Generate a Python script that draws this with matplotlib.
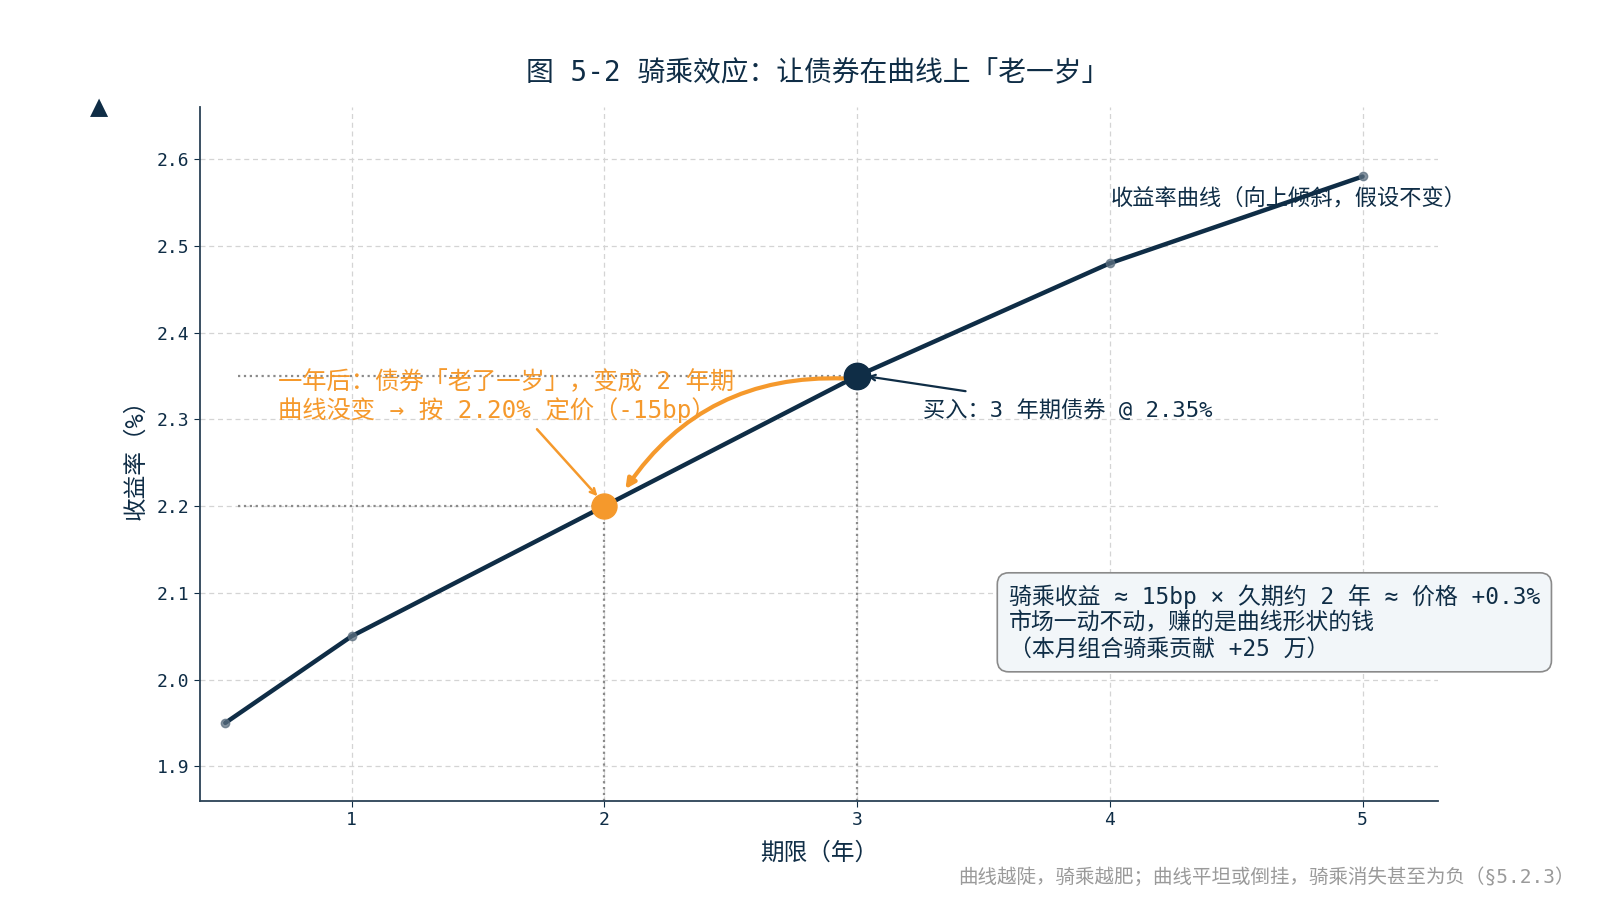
import numpy as np
import matplotlib
matplotlib.use("Agg")
import matplotlib.pyplot as plt

# mono latin + CJK fallback, close to the half-width look of the original
fonts = ["DejaVu Sans Mono", "Noto Sans CJK SC", "DejaVu Sans"]
plt.rcParams["font.family"] = fonts
plt.rcParams["axes.unicode_minus"] = False

# yield curve data
tenors = [0.5, 1, 2, 3, 4, 5]
yields = [1.95, 2.05, 2.20, 2.35, 2.48, 2.58]
buy_tenor, buy_yield = 3, 2.35
roll_tenor, roll_yield = 2, 2.20
x_ticks = [1, 2, 3, 4, 5]
y_ticks = [1.9, 2.0, 2.1, 2.2, 2.3, 2.4, 2.5, 2.6]

navy = "#0f2d46"
orange = "#f5992c"
grey = "#8a8a8a"

fig = plt.figure(figsize=(16, 9), dpi=100)
ax = fig.add_axes([0.125, 0.11, 0.774, 0.771])

ax.grid(True, color="#d4d4d4", linestyle=(0, (4, 3)), linewidth=0.9)
ax.set_axisbelow(True)

# guide lines down to the axes
ax.plot([0.55, buy_tenor], [buy_yield, buy_yield], color=grey, linestyle=":", lw=1.6, zorder=2)
ax.plot([0.55, roll_tenor], [roll_yield, roll_yield], color=grey, linestyle=":", lw=1.6, zorder=2)
ax.plot([buy_tenor, buy_tenor], [1.86, buy_yield], color=grey, linestyle=":", lw=1.6, zorder=2)
ax.plot([roll_tenor, roll_tenor], [1.86, roll_yield], color=grey, linestyle=":", lw=1.6, zorder=2)

# the curve
ax.plot(tenors, yields, color=navy, lw=3.2, zorder=3, solid_capstyle="round")
ax.plot(tenors, yields, "o", color="#5c6f80", ms=6, alpha=0.75, zorder=4)

ax.plot(buy_tenor, buy_yield, "o", color=navy, ms=19, zorder=6)
ax.plot(roll_tenor, roll_yield, "o", color=orange, ms=18, zorder=6)

# annotations
ax.annotate("", xy=(buy_tenor + 0.03, buy_yield), xytext=(3.44, 2.332),
            arrowprops=dict(arrowstyle="->", color=navy, lw=1.6))
ax.text(3.26, 2.311, "买入：3 年期债券 @ 2.35%", color=navy, fontsize=16,
        ha="left", va="center")

ax.text(0.71, 2.326, "一年后：债券「老了一岁」，变成 2 年期\n曲线没变 → 按 2.20% 定价（-15bp）",
        color=orange, fontsize=17.5, ha="left", va="center", linespacing=1.12,
        zorder=7)
ax.annotate("", xy=(1.98, 2.209), xytext=(1.726, 2.291),
            arrowprops=dict(arrowstyle="->", color=orange, lw=1.8))
ax.annotate("", xy=(2.077, 2.217), xytext=(buy_tenor - 0.04, buy_yield - 0.003),
            arrowprops=dict(arrowstyle="-|>", color=orange, lw=3,
                            connectionstyle="arc3,rad=0.28", mutation_scale=14),
            zorder=5)

ax.text(4.004, 2.555, "收益率曲线（向上倾斜，假设不变）", color=navy, fontsize=16,
        ha="left", va="center")

ax.text(3.60, 2.066, "骑乘收益 ≈ 15bp × 久期约 2 年 ≈ 价格 +0.3%\n市场一动不动，赚的是曲线形状的钱\n（本月组合骑乘贡献 +25 万）",
        color=navy, fontsize=16.5, ha="left", va="center", linespacing=1.15,
        bbox=dict(boxstyle="round,pad=0.5", facecolor="#f2f6f9", edgecolor="#8a8a8a", lw=1.2),
        zorder=8)

ax.set_xlim(0.4, 5.3)
ax.set_ylim(1.86, 2.66)
ax.set_xticks(x_ticks)
ax.set_yticks(y_ticks)
ax.set_xticklabels([str(t) for t in x_ticks])
ax.set_yticklabels([f"{t:.1f}" for t in y_ticks])
ax.tick_params(colors=navy, labelsize=13, length=4)
for side in ("top", "right"):
    ax.spines[side].set_visible(False)
for side in ("left", "bottom"):
    ax.spines[side].set_color("#2b4256")
    ax.spines[side].set_linewidth(1.3)

ax.set_xlabel("期限（年）", fontsize=17, color=navy, labelpad=8)
ax.set_ylabel("收益率（%）", fontsize=17, color=navy, labelpad=7)

fig.suptitle("图 5-2 骑乘效应：让债券在曲线上「老一岁」", fontsize=20, color=navy,
             x=0.511, y=0.918, va="center")
fig.text(0.062, 0.881, "▲", fontsize=17, color=navy, ha="center", va="center",
         family=["DejaVu Sans"])
fig.text(0.984, 0.025, "曲线越陡，骑乘越肥；曲线平坦或倒挂，骑乘消失甚至为负（§5.2.3）",
         fontsize=14, color="#9a9a9a", ha="right", va="center")

fig.savefig("out.png", dpi=100)
